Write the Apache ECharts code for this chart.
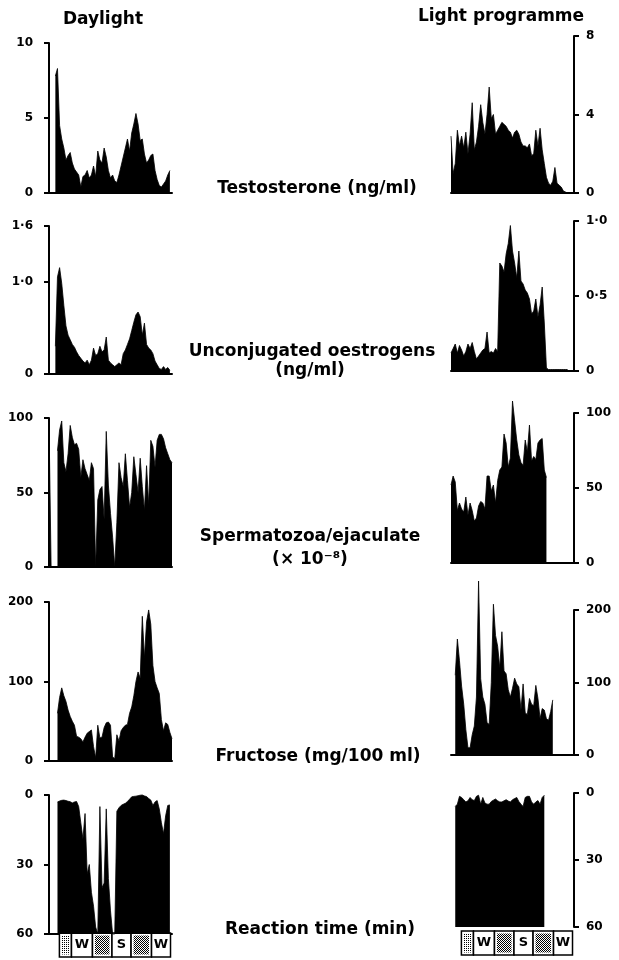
<!DOCTYPE html>
<html>
<head>
<meta charset="utf-8">
<script src="https://cdn.jsdelivr.net/npm/echarts@6/dist/echarts.min.js"></script>
<style>
  html, body { margin: 0; padding: 0; background: #fff; }
  #chart { width: 619px; height: 960px; }
</style>
</head>
<body>
<div id="chart"></div>
<script>
// Weekly samples; index = week number along the shared time axis (null = no sample).
const testosteroneDaylight = [
  null, null, null, 7.8, 8.3, 4.5, 3.6, 3.0, 2.2, 2.5,
  2.7, 2.0, 1.6, 1.4, 1.2, 0.4, 1.1, 1.2, 1.5, 1.0,
  1.2, 1.8, 1.1, 2.8, 2.2, 2.0, 3.0, 2.4, 1.5, 1.0,
  1.2, 0.8, 0.7, 1.2, 1.8, 2.4, 3.0, 3.6, 2.8, 4.0,
  4.6, 5.3, 4.6, 3.5, 3.6, 2.6, 2.0, 2.2, 2.5, 2.6,
  1.5, 0.9, 0.5, 0.4, 0.6, 0.8, 1.2, 1.5, null
];
const testosteroneProgramme = [
  2.9, 1.0, 1.5, 3.2, 2.4, 2.9, 2.3, 3.1, 2.0, 3.0,
  4.6, 2.2, 2.6, 3.4, 4.5, 3.6, 3.0, 4.0, 5.4, 3.8,
  4.0, 3.0, 3.2, 3.4, 3.6, 3.5, 3.4, 3.2, 3.1, 2.8,
  3.1, 3.2, 3.0, 2.6, 2.4, 2.4, 2.3, 2.5, 1.9, 2.0,
  3.2, 2.4, 3.3, 2.2, 1.5, 0.8, 0.5, 0.4, 0.6, 1.3,
  0.5, 0.4, 0.3, 0.1, 0.05, 0, null, null
];
const oestrogensDaylight = [
  null, null, null, 0.3, 1.05, 1.15, 0.98, 0.74, 0.52, 0.42,
  0.37, 0.32, 0.29, 0.24, 0.2, 0.17, 0.14, 0.12, 0.15, 0.1,
  0.15, 0.28, 0.2, 0.22, 0.3, 0.24, 0.26, 0.4, 0.15, 0.12,
  0.1, 0.08, 0.1, 0.12, 0.1, 0.22, 0.26, 0.32, 0.38, 0.47,
  0.56, 0.64, 0.67, 0.62, 0.42, 0.55, 0.32, 0.28, 0.26, 0.22,
  0.14, 0.1, 0.06, 0.05, 0.08, 0.05, 0.07, 0.04, null
];
const oestrogensProgramme = [
  0.12, 0.15, 0.18, 0.12, 0.17, 0.14, 0.10, 0.13, 0.18, 0.15,
  0.19, 0.13, 0.08, 0.10, 0.12, 0.14, 0.15, 0.26, 0.12, 0.13,
  0.12, 0.15, 0.13, 0.72, 0.70, 0.66, 0.78, 0.85, 0.97, 0.80,
  0.72, 0.62, 0.80, 0.60, 0.58, 0.54, 0.52, 0.48, 0.38, 0.40,
  0.48, 0.36, 0.44, 0.56, 0.32, 0.02, 0.01, 0.01, 0.01, 0.01,
  0.01, 0.01, 0.01, 0.01, 0.01, 0.01, null, null
];
const spermDaylight = [
  97, 0, 0, null, 78, 92, 98, 70, 64, 76,
  95, 87, 82, 83, 79, 60, 72, 66, 62, 58,
  70, 66, 0, 45, 52, 54, 32, 91, 55, 36,
  20, 0, 30, 70, 60, 54, 76, 58, 40, 50,
  74, 62, 50, 73, 54, 38, 68, 42, 85, 81,
  67, 85, 89, 89, 86, 80, 76, 72, 70
];
const spermProgramme = [
  52, 58, 54, 35, 40, 36, 34, 44, 32, 40,
  35, 28, 30, 38, 41, 40, 36, 58, 58, 48,
  52, 40, 55, 62, 64, 86, 80, 64, 70, 108,
  95, 82, 72, 67, 65, 82, 74, 92, 68, 71,
  69, 80, 82, 83, 62, 57, null, null, null, null,
  null, null, null, null, null, null, null, null
];
const fructoseDaylight = [
  null, null, null, null, 60, 80, 92, 82, 75, 64,
  56, 50, 45, 31, 30, 28, 24, 30, 35, 37,
  39, 18, 4, 45, 29, 30, 42, 48, 49, 45,
  5, 3, 33, 25, 38, 42, 45, 46, 60, 68,
  82, 100, 112, 104, 182, 130, 175, 190, 172, 120,
  100, 92, 85, 52, 38, 48, 46, 36, 28
];
const fructoseProgramme = [
  null, null, 110, 160, 130, 95, 70, 35, 10, 10,
  28, 40, 80, 240, 105, 80, 70, 45, 42, 100,
  208, 165, 150, 120, 170, 116, 112, 90, 80, 92,
  106, 98, 94, 62, 98, 58, 56, 78, 70, 68,
  96, 78, 50, 64, 62, 50, 48, 60, 76, null,
  null, null, null, null, null, null, null, null
];
// Reaction time: 60 min means no reaction within the test period.
const reactionDaylight = [
  null, null, null, null, 3.0, 2.6, 2.3, 2.2, 2.4, 2.7,
  2.9, 3.4, 3.0, 2.8, 5, 12, 19, 8, 34, 30,
  42, 48, 57, 60, 5, 40, 38, 6, 36, 50,
  60, 60, 7, 5.5, 4.5, 4, 3.6, 2.8, 1.8, 0.8,
  0.6, 0.5, 0.3, 0.1, 0, 0.4, 0.7, 1.5, 2.2, 4.5,
  3, 2.4, 6, 12, 16.7, 9, 4.5, 4.3, null
];
const reactionProgramme = [
  null, null, 6, 5, 1.5, 2, 3, 4, 3.5, 2,
  3, 3.4, 1.5, 1, 5, 2, 4.5, 5, 5, 3.8,
  3.2, 2.7, 3.5, 4, 4, 3.5, 3, 3.6, 4, 3,
  2.5, 2, 3.8, 5, 6, 2, 1.5, 1.5, 4, 5,
  4, 3.4, 5, 2, 1, null, null, null, null, null,
  null, null, null, null, null, null, null, null
];

// Axis tick values
const ticksTestosteroneDaylight = [0, 5, 10];
const ticksTestosteroneProgramme = [0, 4, 8];
const ticksOestrogensDaylight = [0, 1.0, 1.6];
const ticksOestrogensProgramme = [0, 0.5, 1.0];
const ticksSperm = [0, 50, 100];
const ticksFructose = [0, 100, 200];
const ticksReaction = [0, 30, 60];

// Season strip below the time axis (week boundaries)
const seasonStart = [4.9, 10.6, 20.5, 29.7, 38.7, 48.35];
const seasonEnd = [10.6, 20.5, 29.7, 38.7, 48.35, 57.3];
const seasonLetter = ['', 'W', '', 'S', '', 'W'];
const seasonShade = ['light', 'none', 'dense', 'none', 'dense', 'none'];

const panelTitles = [
  ['Testosterone (ng/ml)'],
  ['Unconjugated oestrogens', '(ng/ml)'],
  ['Spermatozoa/ejaculate', '(\u00d7 10\u207b\u2078)'],
  ['Fructose (mg/100 ml)'],
  ['Reaction time (min)']
];

const FONT = 'DejaVu Sans';
const WEEKS = 58;

// Layout of each panel
const panels = [
  { grid: { left: 49, top: 43, width: 123, height: 150 }, side: 'left', data: testosteroneDaylight, ticks: ticksTestosteroneDaylight, dec: 0 },
  { grid: { left: 451, top: 36, width: 123, height: 157 }, side: 'right', data: testosteroneProgramme, ticks: ticksTestosteroneProgramme, dec: 0 },
  { grid: { left: 49, top: 226, width: 123, height: 148 }, side: 'left', data: oestrogensDaylight, ticks: ticksOestrogensDaylight, dec: 1 },
  { grid: { left: 451, top: 221, width: 123, height: 150 }, side: 'right', data: oestrogensProgramme, ticks: ticksOestrogensProgramme, dec: 1 },
  { grid: { left: 49, top: 418, width: 123, height: 149 }, side: 'left', data: spermDaylight, ticks: ticksSperm, dec: 0 },
  { grid: { left: 451, top: 413, width: 123, height: 150 }, side: 'right', data: spermProgramme, ticks: ticksSperm, dec: 0 },
  { grid: { left: 49, top: 602, width: 123, height: 159 }, side: 'left', data: fructoseDaylight, ticks: ticksFructose, dec: 0 },
  { grid: { left: 451, top: 610, width: 123, height: 145 }, side: 'right', data: fructoseProgramme, ticks: ticksFructose, dec: 0 },
  { grid: { left: 49, top: 795, width: 123, height: 139 }, side: 'left', data: reactionDaylight, ticks: ticksReaction, dec: 0, inverse: true, baseLine: true },
  { grid: { left: 451, top: 793, width: 123, height: 134 }, side: 'right', data: reactionProgramme, ticks: ticksReaction, dec: 0, inverse: true, baseLine: false }
];
const stripGrids = [
  { left: 49, top: 933, width: 123, height: 24 },
  { left: 451, top: 931, width: 123, height: 24 }
];

function makePattern(size, dots) {
  const c = document.createElement('canvas');
  c.width = size; c.height = size;
  const g = c.getContext('2d');
  g.fillStyle = '#fff';
  g.fillRect(0, 0, size, size);
  g.fillStyle = '#000';
  dots.forEach(d => g.fillRect(d[0], d[1], 1, 1));
  return { image: c, repeat: 'repeat' };
}
const patterns = {
  light: makePattern(2, [[0, 0]]),
  dense: makePattern(2, [[0, 0], [1, 1]])
};

const grids = [], xAxes = [], yAxes = [], series = [];

panels.forEach((p, k) => {
  grids.push(p.grid);
  xAxes.push({
    type: 'value', gridIndex: k, min: 0, max: WEEKS, position: 'bottom',
    axisLine: { show: p.baseLine !== false, onZero: false, lineStyle: { color: '#000', width: 2 } },
    axisTick: { show: false }, axisLabel: { show: false }, splitLine: { show: false }
  });
  const fmt = v => (v === 0 ? '0' : (p.dec ? v.toFixed(1) : String(v))).replace('.', '\u00b7');
  yAxes.push({
    type: 'value', gridIndex: k, position: p.side,
    min: p.ticks[0], max: p.ticks[p.ticks.length - 1], inverse: !!p.inverse,
    axisLine: { show: true, onZero: false, lineStyle: { color: '#000', width: 2 } },
    axisTick: { show: true, inside: false, length: 5, lineStyle: { color: '#000', width: 2 }, customValues: p.ticks },
    axisLabel: {
      color: '#000', fontFamily: FONT, fontWeight: 'bold', fontSize: 12,
      margin: p.side === 'left' ? 16 : 12, formatter: fmt, customValues: p.ticks
    },
    splitLine: { show: false }
  });
  series.push({
    type: 'line', xAxisIndex: k, yAxisIndex: k,
    data: p.data.map((v, i) => [i, v]),
    symbol: 'none', clip: false, silent: true, animation: false, connectNulls: false,
    lineStyle: { color: '#000', width: 0.8 },
    areaStyle: { color: '#000', opacity: 1, origin: p.inverse ? 'end' : 'auto' }
  });
});

stripGrids.forEach(g => {
  const k = grids.length;
  grids.push(g);
  xAxes.push({ type: 'value', gridIndex: k, min: 0, max: WEEKS, show: false });
  yAxes.push({ type: 'value', gridIndex: k, min: 0, max: 1, show: false });
  series.push({
    type: 'custom', xAxisIndex: k, yAxisIndex: k, silent: true, animation: false,
    data: seasonStart.map((s, i) => [s, seasonEnd[i], i]),
    encode: { x: [0, 1] },
    renderItem: (params, api) => {
      const i = api.value(2);
      const tl = api.coord([api.value(0), 1]);
      const br = api.coord([api.value(1), 0]);
      const x = tl[0], y = tl[1], w = br[0] - tl[0], h = br[1] - tl[1];
      const children = [{
        type: 'rect', shape: { x: x, y: y, width: w, height: h },
        style: { fill: '#fff', stroke: '#000', lineWidth: 1.5 }
      }];
      const shade = seasonShade[i];
      if (shade !== 'none') {
        children.push({
          type: 'rect', shape: { x: x + 2.5, y: y + 2.5, width: w - 5, height: h - 5 },
          style: { fill: patterns[shade] }
        });
      }
      if (seasonLetter[i]) {
        children.push({
          type: 'text',
          style: {
            text: seasonLetter[i], x: x + w / 2, y: y + h / 2,
            textAlign: 'center', textVerticalAlign: 'middle',
            align: 'center', verticalAlign: 'middle',
            font: 'bold 13px "DejaVu Sans"', fill: '#000'
          }
        });
      }
      return { type: 'group', children: children };
    }
  });
});

function label(text, cx, cy) {
  return {
    type: 'text', x: cx, y: cy, silent: true,
    style: {
      text: text, fill: '#000', font: 'bold 17px "DejaVu Sans"',
      textAlign: 'center', textVerticalAlign: 'middle',
      align: 'center', verticalAlign: 'middle'
    }
  };
}

const titlePlaces = [
  [[317, 189]],
  [[312, 352], [310, 371]],
  [[310, 537], [310, 560]],
  [[318, 757]],
  [[320, 930]]
];
const graphics = [label('Daylight', 103, 20), label('Light programme', 501, 17)];
panelTitles.forEach((lines, i) => {
  lines.forEach((t, j) => graphics.push(label(t, titlePlaces[i][j][0], titlePlaces[i][j][1])));
});

const chart = echarts.init(document.getElementById('chart'), null, { renderer: 'canvas' });
chart.setOption({
  backgroundColor: '#fff',
  animation: false,
  grid: grids,
  xAxis: xAxes,
  yAxis: yAxes,
  series: series,
  graphic: graphics
});
</script>
</body>
</html>
